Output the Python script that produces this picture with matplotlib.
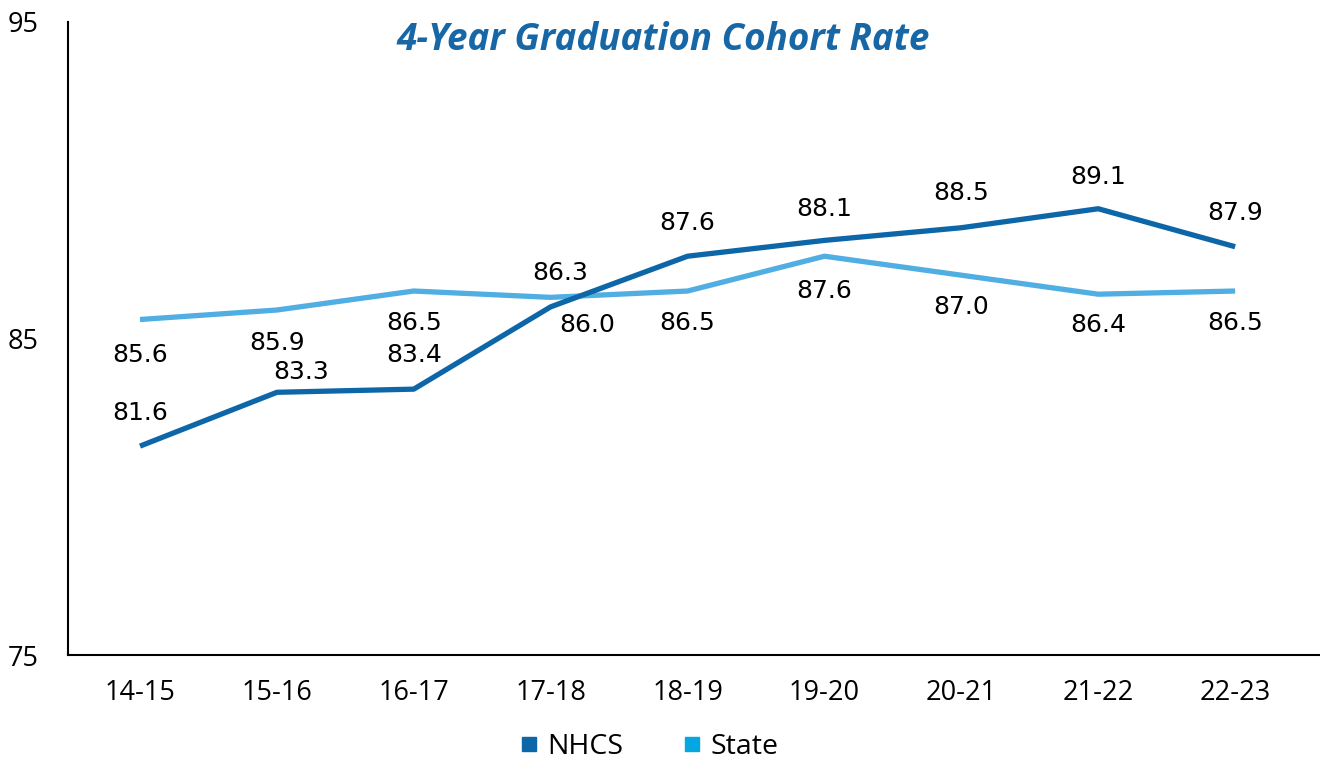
import matplotlib
matplotlib.use("Agg")
import matplotlib.pyplot as plt
from matplotlib.lines import Line2D

categories = ["14-15", "15-16", "16-17", "17-18", "18-19", "19-20", "20-21", "21-22", "22-23"]
nhcs = [81.6, 83.3, 83.4, 86.0, 87.6, 88.1, 88.5, 89.1, 87.9]
state = [85.6, 85.9, 86.5, 86.3, 86.5, 87.6, 87.0, 86.4, 86.5]
y_ticks = [75, 85, 95]

# label offsets in pixels (dx, dy), dy positive = up
nhcs_off = [(0, 33), (24, 20), (0, 34), (37, -18), (0, 33), (0, 31), (0, 35), (0, 32), (0, 34)]
state_off = [(0, -35), (0, -33), (0, -32), (10, 24), (0, -32), (0, -35), (0, -32), (0, -31), (0, -32)]

DARK = "#0D66A8"
LIGHT = "#50AEE3"
LEG_LIGHT = "#04A7DF"
TITLE_C = "#1767A6"

fig = plt.figure(figsize=(13.2, 7.62), dpi=100)
ax = fig.add_axes([68/1320, 1-655/762, 1-68/1320, (655-22)/762])

x = list(range(len(categories)))
ax.plot(x, nhcs, color=DARK, lw=3.8, solid_capstyle="butt", zorder=3)
ax.plot(x, state, color=LIGHT, lw=3.8, solid_capstyle="butt", zorder=2)

px2pt = 72/100
for i, v in enumerate(nhcs):
    dx, dy = nhcs_off[i]
    ax.annotate(f"{v:.1f}", (i, v), xytext=(dx*px2pt, dy*px2pt), textcoords="offset points",
                ha="center", va="center", fontsize=18, family="DejaVu Sans", color="black")
for i, v in enumerate(state):
    dx, dy = state_off[i]
    ax.annotate(f"{v:.1f}", (i, v), xytext=(dx*px2pt, dy*px2pt), textcoords="offset points",
                ha="center", va="center", fontsize=18, family="DejaVu Sans", color="black")

ax.set_xlim(-0.526, 8.62)
ax.set_ylim(75, 95)
ax.set_yticks(y_ticks)
ax.set_xticks(x)
ax.set_xticklabels(categories)
for s in ["top", "right"]:
    ax.spines[s].set_visible(False)
for s in ["left", "bottom"]:
    ax.spines[s].set_linewidth(1.5)
    ax.spines[s].set_color("black")
ax.tick_params(axis="y", length=0, pad=21, labelsize=19.5)
ax.tick_params(axis="x", length=0, pad=17, labelsize=19.5)
for lab in ax.get_xticklabels() + ax.get_yticklabels():
    lab.set_family("Open Sans")

fig.text(663/1320, 1-40/762, "4-Year Graduation Cohort Rate", ha="center", va="center",
         fontsize=26.5, family="Open Sans", fontweight="bold", fontstyle="italic", color=TITLE_C)

handles = [Line2D([], [], marker="s", ls="none", color=DARK, markersize=10.5),
           Line2D([], [], marker="s", ls="none", color=LEG_LIGHT, markersize=10.5)]
fig.legend(handles, ["NHCS", "State"], loc="center", bbox_to_anchor=(647/1320, 1-747/762),
           ncol=2, frameon=False, prop={"family": "Open Sans", "size": 20.5},
           handletextpad=0.2, columnspacing=1.95, handlelength=0.9)

fig.savefig("out.png", dpi=100)
